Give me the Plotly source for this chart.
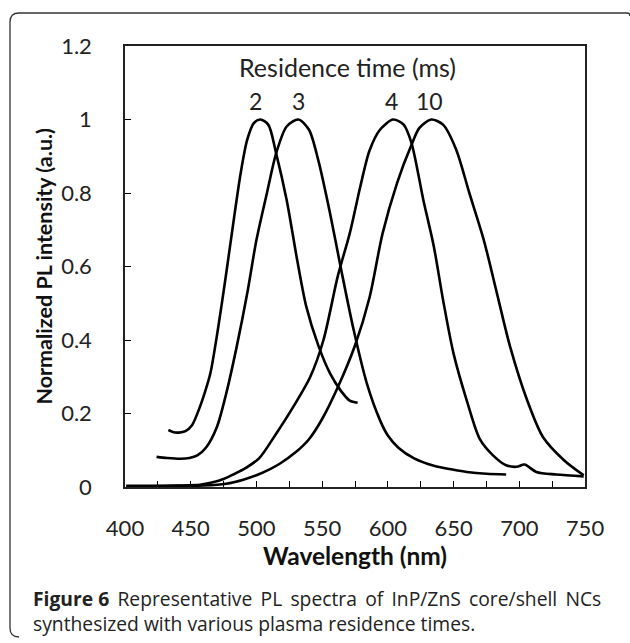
import plotly.graph_objects as go

# ---- data ----
series_names = ["2", "3", "4", "10"]

wl_2 = [433, 437, 441, 446, 451, 457, 461, 465, 471, 477, 482, 488, 493, 498, 503,
        509, 515, 523, 531, 538, 547, 556, 564, 571, 577]
pl_2 = [0.155, 0.149, 0.148, 0.152, 0.168, 0.218, 0.26, 0.31, 0.436, 0.581, 0.708,
        0.854, 0.945, 0.99, 1.0, 0.986, 0.908, 0.781, 0.618, 0.49, 0.386, 0.309,
        0.263, 0.235, 0.229]

wl_3 = [424, 432, 442, 449, 455, 462, 470, 477, 485, 493, 500, 508, 515, 523, 532,
        540, 547, 556, 564, 574, 584, 594, 600, 608, 620, 635, 650, 660, 675, 690]
pl_3 = [0.082, 0.079, 0.077, 0.079, 0.086, 0.109, 0.164, 0.254, 0.382, 0.527, 0.672,
        0.8, 0.908, 0.981, 1.0, 0.972, 0.89, 0.745, 0.6, 0.427, 0.282, 0.182, 0.14,
        0.107, 0.078, 0.058, 0.047, 0.041, 0.036, 0.034]

wl_4 = [401, 420, 440, 457, 466, 475, 483, 492, 502, 515, 528, 541, 551, 562, 571,
        579, 586, 594, 604, 612, 618, 627, 635, 642, 650, 660, 670, 680, 690, 698,
        704, 713, 728, 749]
pl_4 = [0.003, 0.003, 0.004, 0.006, 0.012, 0.022, 0.035, 0.052, 0.078, 0.145, 0.218,
        0.3, 0.4, 0.575, 0.69, 0.817, 0.915, 0.972, 1.0, 0.986, 0.936, 0.781, 0.654,
        0.509, 0.363, 0.236, 0.13, 0.086, 0.059, 0.055, 0.061, 0.041, 0.034, 0.029]

wl_10 = [401, 420, 440, 460, 477, 490, 500, 510, 518, 530, 540, 550, 562, 575, 586,
         596, 607, 618, 624, 633, 642, 652, 662, 673, 683, 693, 706, 718, 734, 749]
pl_10 = [0.002, 0.002, 0.003, 0.004, 0.009, 0.02, 0.032, 0.048, 0.064, 0.095, 0.13,
         0.185, 0.272, 0.385, 0.515, 0.69, 0.827, 0.931, 0.977, 1.0, 0.986, 0.918,
         0.8, 0.672, 0.527, 0.382, 0.236, 0.136, 0.073, 0.032]

label_wl = [499, 532, 603, 632]

x_ticks = [400, 450, 500, 550, 600, 650, 700, 750]
y_ticks = [0, 0.2, 0.4, 0.6, 0.8, 1, 1.2]
y_tick_text = ["0", "0.2", "0.4", "0.6", "0.8", "1", "1.2"]

FONT = "Lato"
CAP_FONT = "Open Sans"
TXT = "#222"

fig = go.Figure()
for name, xs, ys in [("2", wl_2, pl_2), ("3", wl_3, pl_3), ("4", wl_4, pl_4), ("10", wl_10, pl_10)]:
    fig.add_trace(go.Scatter(x=xs, y=ys, mode="lines", name=name,
                             line=dict(color="black", width=2.6, shape="spline", smoothing=0.8),
                             showlegend=False))

# plot-area geometry in pixels (for converting page positions to paper coords)
L, R, T, B = 125, 585, 46, 487
W, H = R - L, B - T
def px(x):
    return (x - L) / W
def py(y):
    return (B - y) / H

annotations = []
annotations.append(dict(x=569.5, y=1.142, xref="x", yref="y", text="Residence time (ms)",
                        xanchor="center", yanchor="middle", showarrow=False,
                        font=dict(family=FONT, size=25, color=TXT)))
for name, xw in zip(series_names, label_wl):
    annotations.append(dict(x=xw, y=1.049, xref="x", yref="y", text=name, showarrow=False,
                            xanchor="center", yanchor="middle",
                            font=dict(family=FONT, size=23, color=TXT)))
annotations.append(dict(x=px(43), y=0.5, xref="paper", yref="paper", textangle=-90,
                        xanchor="center", yanchor="middle",
                        text="<b>Normalized PL intensity (a.u.)</b>", showarrow=False,
                        font=dict(family=FONT, size=21.5, color="#111")))
annotations.append(dict(x=0.5, y=py(555), xref="paper", yref="paper",
                        xanchor="center", yanchor="middle",
                        text="<b>Wavelength (nm)</b>", showarrow=False,
                        font=dict(family=FONT, size=24.5, color="#111")))
cap1 = "<b>Figure 6</b> Representative PL spectra of InP/ZnS core/shell NCs"
cap1 = cap1.replace(" ", " \u2006").replace("<b>Figure \u2006", "<b>Figure ")
cap2 = "synthesized with various plasma residence times."
annotations.append(dict(x=px(31), y=py(611), xref="paper", yref="paper", xanchor="left",
                        yanchor="middle", align="left", text=cap1 + "<br>" + cap2,
                        showarrow=False, font=dict(family=CAP_FONT, size=19.3, color=TXT)))

# rounded frame around the figure
x0, x1, y0, y1, r = 10, 627, 13, 637, 9
path = (f"M {px(x0 + r)} {py(y1)} Q {px(x0)} {py(y1)} {px(x0)} {py(y1 - r)} "
        f"L {px(x0)} {py(y0 + r)} Q {px(x0)} {py(y0)} {px(x0 + r)} {py(y0)} "
        f"L {px(x1)} {py(y0)} Q {px(x1 + 3)} {py(y0)} {px(x1 + 3)} {py(y0 + 3)}")
shapes = [dict(type="path", path=path, xref="paper", yref="paper",
               line=dict(color="#333", width=1.3))]

fig.update_layout(
    width=630, height=643,
    margin=dict(l=L, r=630 - R, t=T, b=643 - B),
    paper_bgcolor="white", plot_bgcolor="white",
    annotations=annotations, shapes=shapes,
    xaxis=dict(range=[400, 750], tickvals=x_ticks, ticks="inside", ticklen=6, tickwidth=1.3,
               tickcolor="black", showline=True, linecolor="#222", linewidth=1.5, mirror=True,
               showgrid=False, zeroline=False, ticklabelstandoff=21,
               minor=dict(dtick=25, tick0=400, ticks="inside", ticklen=6, tickwidth=1.3, tickcolor="black"),
               tickfont=dict(family=FONT, size=22, color=TXT)),
    yaxis=dict(range=[0, 1.2], tickvals=y_ticks, ticktext=y_tick_text,
               ticks="inside", ticklen=6, tickwidth=1.3, tickcolor="black",
               showline=True, linecolor="#222", linewidth=1.5, mirror=True,
               showgrid=False, zeroline=False, ticklabelstandoff=27,
               tickfont=dict(family=FONT, size=22, color=TXT)),
)

fig.write_html("out.html")
